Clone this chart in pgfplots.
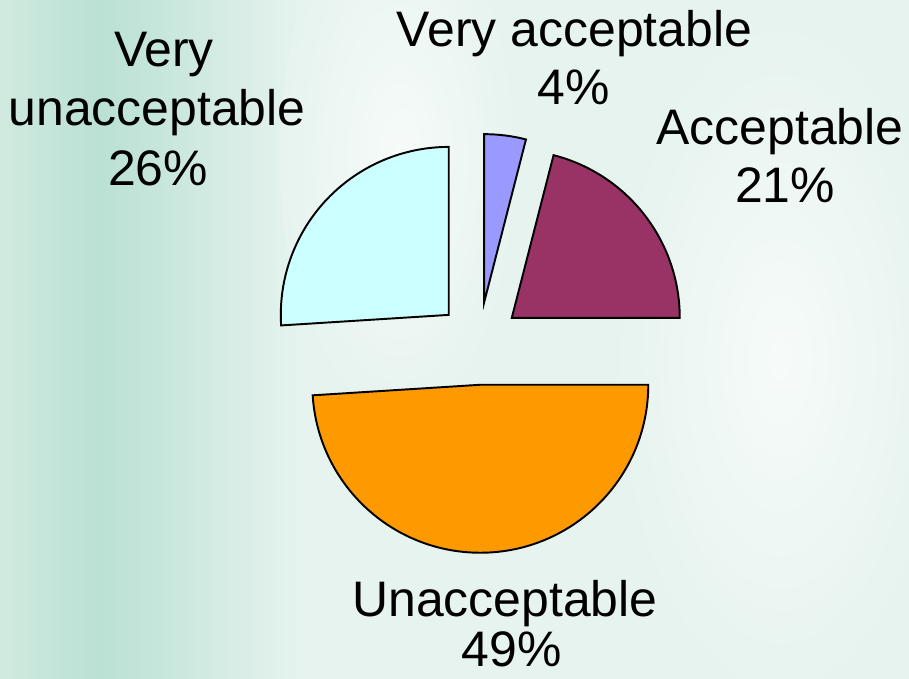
\documentclass[border=0pt]{standalone}
\usepackage{pgfplots}
\pgfplotsset{compat=1.18}
\usepackage{pgfplotstable}
\usepackage{fontspec}
\setmainfont{Liberation Sans}

\definecolor{cVA}{RGB}{153,153,255}
\definecolor{cA}{RGB}{153,51,102}
\definecolor{cU}{RGB}{255,153,0}
\definecolor{cVU}{RGB}{204,255,255}
\definecolor{bgBase}{RGB}{230,243,238}
\definecolor{bgBand}{RGB}{186,225,211}
\definecolor{bgEdge}{RGB}{208,234,224}
\definecolor{bgLight}{RGB}{246,251,249}

% slices clockwise from 12 o'clock, values in %
\pgfplotstableread{
label value color
VeryAcceptable 4 cVA
Acceptable 21 cA
Unacceptable 49 cU
VeryUnacceptable 26 cVU
}\piedata

\newcommand{\lbl}[3]{\node[anchor=base, inner sep=0pt, font=\fontsize{28.4}{34}\selectfont] at (axis cs:#1,#2) {#3};}

\begin{document}
\begin{tikzpicture}
\begin{axis}[
    x=0.02cm, y=0.02cm,
    xmin=0, xmax=909, ymin=0, ymax=679,
    hide axis,
]
  % background
  \fill[bgBase] (axis cs:0,0) rectangle (axis cs:909,679);
  \shade[left color=bgEdge, right color=bgBand] (axis cs:0,0) rectangle (axis cs:100,679);
  \shade[left color=bgBand, right color=bgBase] (axis cs:100,0) rectangle (axis cs:300,679);
  \shade[inner color=bgLight, outer color=bgBase] (axis cs:400,520) ellipse [x radius=2.4cm, y radius=5.5cm];
  \shade[inner color=bgLight, outer color=bgBase] (axis cs:780,320) ellipse [x radius=3.4cm, y radius=7cm];

  \pgfplotsextra{
    \xdef\cum{0}
    \pgfplotstablegetrowsof{\piedata}
    \pgfmathtruncatemacro\nrows{\pgfplotsretval-1}
    \foreach \i in {0,...,\nrows}{
      \pgfplotstablegetelem{\i}{value}\of\piedata \let\v\pgfplotsretval
      \pgfplotstablegetelem{\i}{color}\of\piedata \let\c\pgfplotsretval
      \pgfmathsetmacro\aS{90-3.6*\cum}
      \pgfmathsetmacro\aE{90-3.6*(\cum+\v)}
      \pgfmathsetmacro\aM{(\aS+\aE)/2}
      \pgfmathsetmacro\ox{479+41.5*cos(\aM)}
      \pgfmathsetmacro\oy{335.7+41.5*sin(\aM)}
      \filldraw[fill=\c, draw=black, line width=1.1pt, line join=miter]
        (axis cs:\ox,\oy) -- ++(\aS:3.36cm) arc[start angle=\aS, end angle=\aE, radius=3.36cm] -- cycle;
      \pgfmathsetmacro\newcum{\cum+\v}
      \xdef\cum{\newcum}
    }
  }

  % data labels
  \lbl{574.5}{632.3}{Very acceptable}
  \lbl{574}{574}{4\%}
  \lbl{780}{534}{Acceptable}
  \lbl{785}{476}{21\%}
  \lbl{164}{612.3}{Very}
  \lbl{157}{553}{unacceptable}
  \lbl{158}{493}{26\%}
  \lbl{505}{62.3}{Unacceptable}
  \lbl{511.7}{12}{49\%}
\end{axis}
\pgfresetboundingbox
\useasboundingbox (current axis.south west) rectangle (current axis.north east);
\end{tikzpicture}
\end{document}
